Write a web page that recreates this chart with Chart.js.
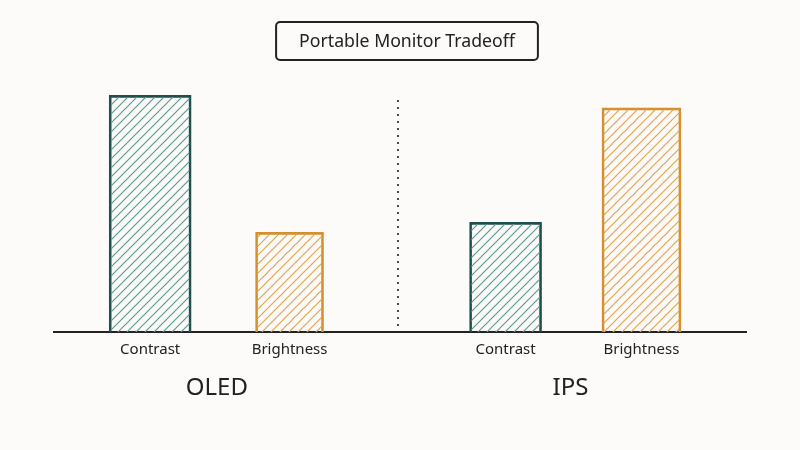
<!DOCTYPE html>
<html>
<head>
<meta charset="utf-8">
<script src="https://cdn.jsdelivr.net/npm/chart.js@4.4.1/dist/chart.umd.min.js"></script>
<style>
  html, body { margin: 0; padding: 0; background: #fdfafa; }
  #wrap { width: 800px; height: 450px; }
</style>
</head>
<body>
<div id="wrap"><canvas id="chart" width="800" height="450"></canvas></div>
<script>
// data
var title = 'Portable Monitor Tradeoff';
var categories = ['Contrast', 'Brightness', 'Contrast', 'Brightness'];
var groups = ['OLED', 'IPS'];
var groupOf = [0, 0, 1, 1];
var values = [95, 40, 44, 90];      // relative score, 0-100
var slots = [0, 2, 5.1, 7.05];      // x position of each bar on the axis
var dividerAt = 3.55;

// styles
var FONT = '"Noto Sans", "Open Sans", sans-serif';
var INK = '#222222';
var teal = { border: '#1f4f49', hatch: '#5c9c94' };
var orange = { border: '#d4902c', hatch: '#e2a54c' };
var barColors = [teal, orange, teal, orange];
var barWidths = [82, 68, 72, 79];

//make a diagonal hatch pattern
function hatch(color) {
  var c = document.createElement('canvas');
  c.width = 9; c.height = 9;
  var g = c.getContext('2d');
  g.strokeStyle = color;
  g.lineWidth = 1.2;
  g.lineCap = 'square';
  g.beginPath();
  g.moveTo(0, 9); g.lineTo(9, 0);
  g.moveTo(-2, 2); g.lineTo(2, -2);
  g.moveTo(7, 11); g.lineTo(11, 7);
  g.stroke();
  return g.createPattern(c, 'repeat');
}

var canvas = document.getElementById('chart');
var ctx = canvas.getContext('2d');

//one dataset per bar so each can keep its own width
var datasets = values.map(function(v, i) {
  return {
    label: groups[groupOf[i]] + ' ' + categories[i],
    data: [{ x: slots[i], y: v }],
    backgroundColor: hatch(barColors[i].hatch),
    borderColor: barColors[i].border,
    borderWidth: 2,
    borderSkipped: 'start',
    barThickness: barWidths[i],
    grouped: false
  };
});

//page background
var background = {
  id: 'background',
  beforeDraw: function(chart) {
    var c = chart.ctx;
    c.save();
    c.fillStyle = '#fdfafa';
    c.fillRect(0, 0, chart.width, chart.height);
    c.restore();
  }
};

//boxed title, group labels and the dotted divider
var decorations = {
  id: 'decorations',
  afterDraw: function(chart) {
    var c = chart.ctx;
    var xs = chart.scales.x;
    var area = chart.chartArea;
    c.save();

    // title box
    c.font = '17.7px ' + FONT;
    c.fillStyle = INK;
    c.textAlign = 'center';
    c.textBaseline = 'middle';
    var cx = 407, cy = 42;
    var w = c.measureText(title).width + 46;
    c.fillText(title, cx, cy);
    c.strokeStyle = INK;
    c.lineWidth = 2;
    c.beginPath();
    c.roundRect(cx - w / 2, 22, w, 38, 4);
    c.stroke();

    // group labels under each pair
    c.font = '24px ' + FONT;
    groups.forEach(function(name, g) {
      var idx = [];
      groupOf.forEach(function(v, i) { if (v === g) idx.push(i); });
      var mid = (slots[idx[0]] + slots[idx[idx.length - 1]]) / 2;
      c.fillText(name, xs.getPixelForValue(mid) - 3, 388);
    });

    // dotted divider
    var dx = Math.round(xs.getPixelForValue(dividerAt));
    c.fillStyle = INK;
    for (var y = 101; y < area.bottom - 2; y += 7) {
      c.beginPath();
      c.arc(dx, y, 1.1, 0, Math.PI * 2);
      c.fill();
    }
    c.restore();
  }
};

new Chart(ctx, {
  type: 'bar',
  data: { datasets: datasets },
  plugins: [background, decorations],
  options: {
    responsive: false,
    animation: false,
    layout: { padding: { top: 83, left: 54, right: 54, bottom: 82 } },
    plugins: {
      legend: { display: false },
      tooltip: { enabled: false },
      title: { display: false }
    },
    scales: {
      x: {
        type: 'linear',
        offset: false,
        min: -1.38,
        max: 8.55,
        grid: { display: false, drawTicks: false },
        border: { display: true, color: INK, width: 2 },
        afterBuildTicks: function(scale) {
          scale.ticks = slots.map(function(v) { return { value: v }; });
        },
        ticks: {
          autoSkip: false,
          maxRotation: 0,
          padding: 9,
          color: INK,
          font: { family: FONT, size: 15 },
          callback: function(v, i) { return categories[i]; }
        }
      },
      y: {
        display: false,
        min: 0,
        max: 100
      }
    }
  }
});
</script>
</body>
</html>
